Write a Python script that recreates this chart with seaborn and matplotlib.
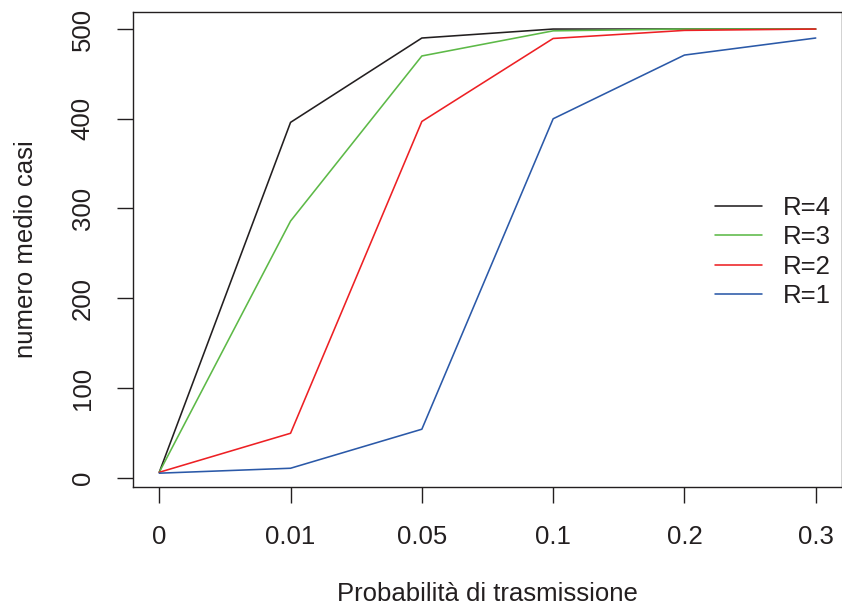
import numpy as np
import pandas as pd
import matplotlib
matplotlib.use("Agg")
import matplotlib.pyplot as plt
import seaborn as sns

# ---- data ----
prob_labels = ["0", "0.01", "0.05", "0.1", "0.2", "0.3"]
r4 = [6, 396, 490, 500, 500, 500]
r3 = [6, 286, 470, 498, 500, 500]
r2 = [6, 49.5, 397, 489.5, 498.5, 500]
r1 = [5, 10.5, 54, 400, 471, 490]
series_names = ["R=4", "R=3", "R=2", "R=1"]
series_values = [r4, r3, r2, r1]
colors = ["#231F20", "#5DB947", "#ED2024", "#2B59A8"]
y_ticks = [0, 100, 200, 300, 400, 500]

rows = []
for name, vals in zip(series_names, series_values):
    for i, v in enumerate(vals):
        rows.append({"pos": i, "value": v, "series": name})
df = pd.DataFrame(rows)

sns.set_style("white")
plt.rcParams["font.family"] = ["Liberation Sans", "DejaVu Sans"]

W, H = 842, 612
fig = plt.figure(figsize=(W / 100, H / 100), dpi=100)
left, right, top, bottom = 133, 842, 12, 487
aw, ah = right - left, bottom - top
ax = fig.add_axes([left / W, 1 - bottom / H, aw / W, ah / H])

sns.lineplot(data=df, x="pos", y="value", hue="series", hue_order=series_names,
             palette=colors, linewidth=1.15, ax=ax, legend=True, sort=False)

ax.set_xlim(-0.2, 5.2)
ax.set_ylim(-10.4, 519)
ax.set_xticks(range(len(prob_labels)))
ax.set_xticklabels(prob_labels)
ax.set_yticks(y_ticks)
ax.set_yticklabels([str(t) for t in y_ticks], rotation=90, va="center")

fs = 18.5
ax.tick_params(axis="both", which="major", direction="out", length=11.5, width=1.0,
               color="#231F20", labelsize=fs, pad=16, labelcolor="#231F20",
               bottom=True, left=True, top=False, right=False)
for s in ax.spines.values():
    s.set_visible(True)
    s.set_color("#231F20")
    s.set_linewidth(1.0)

ax.set_xlabel("Probabilità di trasmissione", fontsize=fs, color="#231F20")
ax.set_ylabel("numero medio casi", fontsize=fs, color="#231F20")
ax.xaxis.set_label_coords(0.5, (bottom - 582) / ah)
ax.yaxis.set_label_coords((38 - left) / aw, 0.5)

handles, labels = ax.get_legend_handles_labels()
leg = ax.legend(handles, labels, frameon=False, fontsize=fs,
                loc="center left", bbox_to_anchor=(715 / W, 1 - 252 / H),
                bbox_transform=fig.transFigure, borderpad=0, borderaxespad=0,
                handlelength=1.83, handletextpad=0.82, labelspacing=0.2)
for t in leg.get_texts():
    t.set_color("#231F20")

fig.savefig("out.png", dpi=100)
